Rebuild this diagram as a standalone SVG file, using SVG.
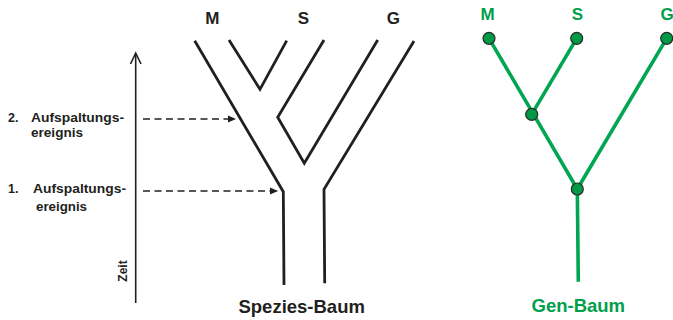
<svg xmlns="http://www.w3.org/2000/svg" width="673" height="320" viewBox="0 0 673 320">
  <style>
    .lbl { font-family: "Liberation Sans", Arial, sans-serif; font-weight: bold; fill: #231f20; }
    .glbl { font-family: "Liberation Sans", Arial, sans-serif; font-weight: bold; fill: #00a04b; }
    .branch { fill: none; stroke: #231f20; stroke-width: 2.8; stroke-linejoin: miter; }
    .dash { fill: none; stroke: #231f20; stroke-width: 1.7; stroke-dasharray: 7 4.5; }
    .gene { fill: none; stroke: #00a651; stroke-width: 3.6; }
    .gnode { fill: #009a44; stroke: #2b2b2b; stroke-width: 1.2; }
  </style>
  <defs>
    <marker id="tri" markerWidth="8" markerHeight="8" refX="7" refY="4" orient="auto" markerUnits="userSpaceOnUse">
      <path d="M0,0.5 L8,4 L0,7.5 Z" fill="#231f20"/>
    </marker>
  </defs>
  <rect width="673" height="320" fill="#ffffff"/>

  <!-- time axis -->
  <g id="axis">
    <line x1="135.7" y1="54" x2="135.7" y2="303" stroke="#231f20" stroke-width="1.6"/>
    <path d="M130.5,64 L135.7,53 L141,64" fill="none" stroke="#231f20" stroke-width="1.6"/>
    <text class="lbl" font-size="12" transform="translate(126.5,271) rotate(-90)" text-anchor="middle">Zeit</text>
  </g>

  <!-- event labels -->
  <g id="event2">
    <text class="lbl" font-size="12.5" x="8" y="122">2.</text>
    <text class="lbl" font-size="12.5" x="31" y="122" textLength="93" lengthAdjust="spacingAndGlyphs">Aufspaltungs-</text>
    <text class="lbl" font-size="12.5" x="31" y="136.5" textLength="52" lengthAdjust="spacingAndGlyphs">ereignis</text>
  </g>
  <g id="event1">
    <text class="lbl" font-size="12.5" x="8" y="192.5">1.</text>
    <text class="lbl" font-size="12.5" x="33" y="192.5" textLength="93" lengthAdjust="spacingAndGlyphs">Aufspaltungs-</text>
    <text class="lbl" font-size="12.5" x="36" y="211" textLength="51" lengthAdjust="spacingAndGlyphs">ereignis</text>
  </g>

  <!-- species tree -->
  <g id="species-tree">
    <path class="branch" d="M194.7,40.7 L283.3,191.7 L284,285"/>
    <path class="branch" d="M229,40 L260,89.3 L286.7,40.7"/>
    <path class="branch" d="M324,40 L277.7,117.3 L304.3,163.3 L377.7,40"/>
    <path class="branch" d="M414,41 L324,189.3 L324.7,283.3"/>
  </g>
  <g id="species-labels">
    <text class="lbl" font-size="17" x="212.3" y="24" text-anchor="middle">M</text>
    <text class="lbl" font-size="17" x="303.3" y="24" text-anchor="middle">S</text>
    <text class="lbl" font-size="17" x="393.3" y="24" text-anchor="middle">G</text>
    <text class="lbl" font-size="18.5" x="301.7" y="313" text-anchor="middle">Spezies-Baum</text>
  </g>

  <!-- connectors: event pointers -->
  <g id="connectors">
    <line class="dash" x1="143" y1="119" x2="235" y2="119" marker-end="url(#tri)"/>
    <line class="dash" x1="143" y1="191" x2="277" y2="191" marker-end="url(#tri)"/>
  </g>

  <!-- gene tree -->
  <g id="gene-edges">
    <path class="gene" d="M489,38.3 L577.3,189 L578.3,281.7"/>
    <path class="gene" d="M576.7,38.3 L531.7,114.3"/>
    <path class="gene" d="M666.7,38.3 L577.3,189"/>
  </g>
  <g id="gene-node-M"><circle class="gnode" cx="489" cy="38.3" r="6"/></g>
  <g id="gene-node-S"><circle class="gnode" cx="576.7" cy="38.3" r="6"/></g>
  <g id="gene-node-G"><circle class="gnode" cx="666.7" cy="38.3" r="6"/></g>
  <g id="gene-node-MS"><circle class="gnode" cx="531.7" cy="114.3" r="6"/></g>
  <g id="gene-node-root"><circle class="gnode" cx="577.3" cy="189" r="6"/></g>
  <g id="gene-labels">
    <text class="glbl" font-size="17" x="487.7" y="20" text-anchor="middle">M</text>
    <text class="glbl" font-size="17" x="577.3" y="20" text-anchor="middle">S</text>
    <text class="glbl" font-size="17" x="667" y="20" text-anchor="middle">G</text>
    <text class="glbl" font-size="18.5" x="578.3" y="312" text-anchor="middle">Gen-Baum</text>
  </g>
</svg>
